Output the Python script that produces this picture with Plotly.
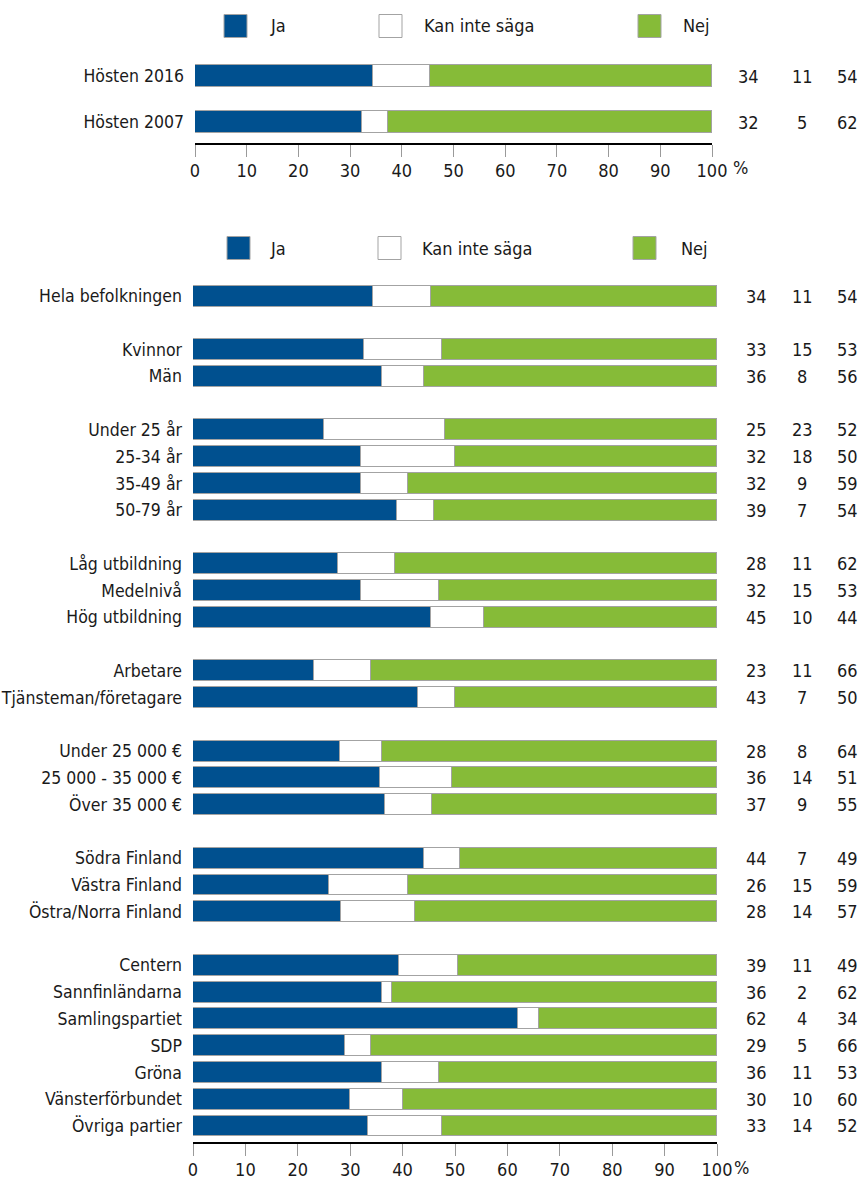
import plotly.graph_objects as go

# ---------------- data ----------------
top_labels = ["Hösten 2016", "Hösten 2007"]
top_ja = [34, 32]
top_kan = [11, 5]
top_nej = [54, 62]

groups = [
    ["Hela befolkningen"],
    ["Kvinnor", "Män"],
    ["Under 25 år", "25-34 år", "35-49 år", "50-79 år"],
    ["Låg utbildning", "Medelnivå", "Hög utbildning"],
    ["Arbetare", "Tjänsteman/företagare"],
    ["Under 25 000 €", "25 000 - 35 000 €", "Över 35 000 €"],
    ["Södra Finland", "Västra Finland", "Östra/Norra Finland"],
    ["Centern", "Sannfinländarna", "Samlingspartiet", "SDP", "Gröna",
     "Vänsterförbundet", "Övriga partier"],
]
ja = [34, 33, 36, 25, 32, 32, 39, 28, 32, 45, 23, 43, 28, 36, 37, 44, 26, 28,
      39, 36, 62, 29, 36, 30, 33]
kan = [11, 15, 8, 23, 18, 9, 7, 11, 15, 10, 11, 7, 8, 14, 9, 7, 15, 14,
       11, 2, 4, 5, 11, 10, 14]
nej = [54, 53, 56, 52, 50, 59, 54, 62, 53, 44, 66, 50, 64, 51, 55, 49, 59, 57,
       49, 62, 34, 66, 53, 60, 52]

series_names = ["Ja", "Kan inte säga", "Nej"]
x_ticks = [0, 10, 20, 30, 40, 50, 60, 70, 80, 90, 100]

# ---------------- style ----------------
BLUE = "#00508f"
WHITE = "#ffffff"
GREEN = "#86bb38"
EDGE = "#a3a3a3"
TXT = "#1a1a1a"
FONT = "DejaVu Sans Condensed, DejaVu Sans, sans-serif"
FS = 18
colors = [BLUE, WHITE, GREEN]
W, H = 860, 1179

def py(px):
    return 1 - px / H

# row positions for bottom panel (one empty row between groups)
labels = []
pos = []
p = 0
for gi, g in enumerate(groups):
    if gi > 0:
        p += 1
    for lab in g:
        labels.append(lab)
        pos.append(p)
        p += 1

top_pos = list(range(len(top_labels)))

fig = go.Figure()

for name, vals, c in zip(series_names, [top_ja, top_kan, top_nej], colors):
    fig.add_trace(go.Bar(
        x=vals, y=top_pos, orientation="h", name=name, width=0.48,
        marker=dict(color=c, line=dict(color=EDGE, width=1)),
        xaxis="x", yaxis="y", showlegend=False, hoverinfo="x+name"))

for name, vals, c in zip(series_names, [ja, kan, nej], colors):
    fig.add_trace(go.Bar(
        x=vals, y=pos, orientation="h", name=name, width=0.78,
        marker=dict(color=c, line=dict(color=EDGE, width=1)),
        xaxis="x2", yaxis="y2", showlegend=False, hoverinfo="x+name"))

xcommon = dict(range=[0, 100], tickvals=x_ticks, ticktext=[str(t) for t in x_ticks],
               showline=True, linecolor="black", linewidth=2,
               ticks="outside", ticklen=12, tickwidth=1, tickcolor="#9a9a9a",
               showgrid=False, zeroline=False, automargin=False,
               ticklabelstandoff=-2,
               tickfont=dict(family=FONT, size=FS, color=TXT))

ycommon = dict(ticks="", showgrid=False, zeroline=False, showline=False,
               automargin=False, ticklabelstandoff=10,
               tickfont=dict(family=FONT, size=17.5, color=TXT))

fig.update_layout(
    width=W, height=H,
    margin=dict(l=0, r=0, t=0, b=0, autoexpand=False),
    paper_bgcolor="white", plot_bgcolor="white",
    barmode="stack", barnorm="percent", bargap=0,
    font=dict(family=FONT, size=FS, color=TXT),
    xaxis=dict(domain=[195 / W, 712 / W], anchor="y", **xcommon),
    yaxis=dict(domain=[py(143), py(55)], range=[1.45, -0.46], anchor="x",
               tickvals=top_pos, ticktext=top_labels, **ycommon),
    xaxis2=dict(domain=[193 / W, 717 / W], anchor="y2", **xcommon),
    yaxis2=dict(domain=[py(1142), py(280)], range=[31.6, -0.6], anchor="x2",
                tickvals=pos, ticktext=labels, **ycommon),
)

shapes = []
annotations = []

# legends (two)
def add_legend(yc, boxes, texts):
    for (x0, x1), tx, c, name in zip(boxes, texts, colors, series_names):
        shapes.append(dict(type="rect", xref="paper", yref="paper",
                           x0=x0 / W, x1=x1 / W, y0=py(yc + 11.5), y1=py(yc - 11.5),
                           fillcolor=c, line=dict(color=EDGE, width=1)))
        annotations.append(dict(xref="paper", yref="paper", x=tx / W, y=py(yc),
                                text=name, showarrow=False, xanchor="left",
                                yanchor="middle", font=dict(family=FONT, size=FS, color=TXT)))

add_legend(26, [(224, 247), (379, 402), (638, 661)], [268, 422, 681])
add_legend(248, [(227, 250), (378, 401), (633, 656)], [268, 420, 679])

# value columns
top_cols = [748, 802, 847]
bot_cols = [756, 802, 847]
for i, yv in enumerate(top_pos):
    for cx, v in zip(top_cols, [top_ja[i], top_kan[i], top_nej[i]]):
        annotations.append(dict(xref="paper", yref="y", x=cx / W, y=yv, text=str(v),
                                showarrow=False, xanchor="center", yanchor="middle",
                                font=dict(family=FONT, size=FS, color=TXT)))
for i, yv in enumerate(pos):
    for cx, v in zip(bot_cols, [ja[i], kan[i], nej[i]]):
        annotations.append(dict(xref="paper", yref="y2", x=cx / W, y=yv, text=str(v),
                                showarrow=False, xanchor="center", yanchor="middle",
                                font=dict(family=FONT, size=FS, color=TXT)))

# percent signs
annotations.append(dict(xref="paper", yref="paper", x=740 / W, y=py(168), text="%",
                        showarrow=False, xanchor="center", yanchor="middle",
                        font=dict(family=FONT, size=FS, color=TXT)))
annotations.append(dict(xref="paper", yref="paper", x=741 / W, y=py(1167), text="%",
                        showarrow=False, xanchor="center", yanchor="middle",
                        font=dict(family=FONT, size=FS, color=TXT)))

fig.update_layout(shapes=shapes, annotations=annotations)
fig.write_html("out.html", config={"displayModeBar": False},
               post_script="document.body.style.margin='0';document.body.style.overflow='hidden';")
